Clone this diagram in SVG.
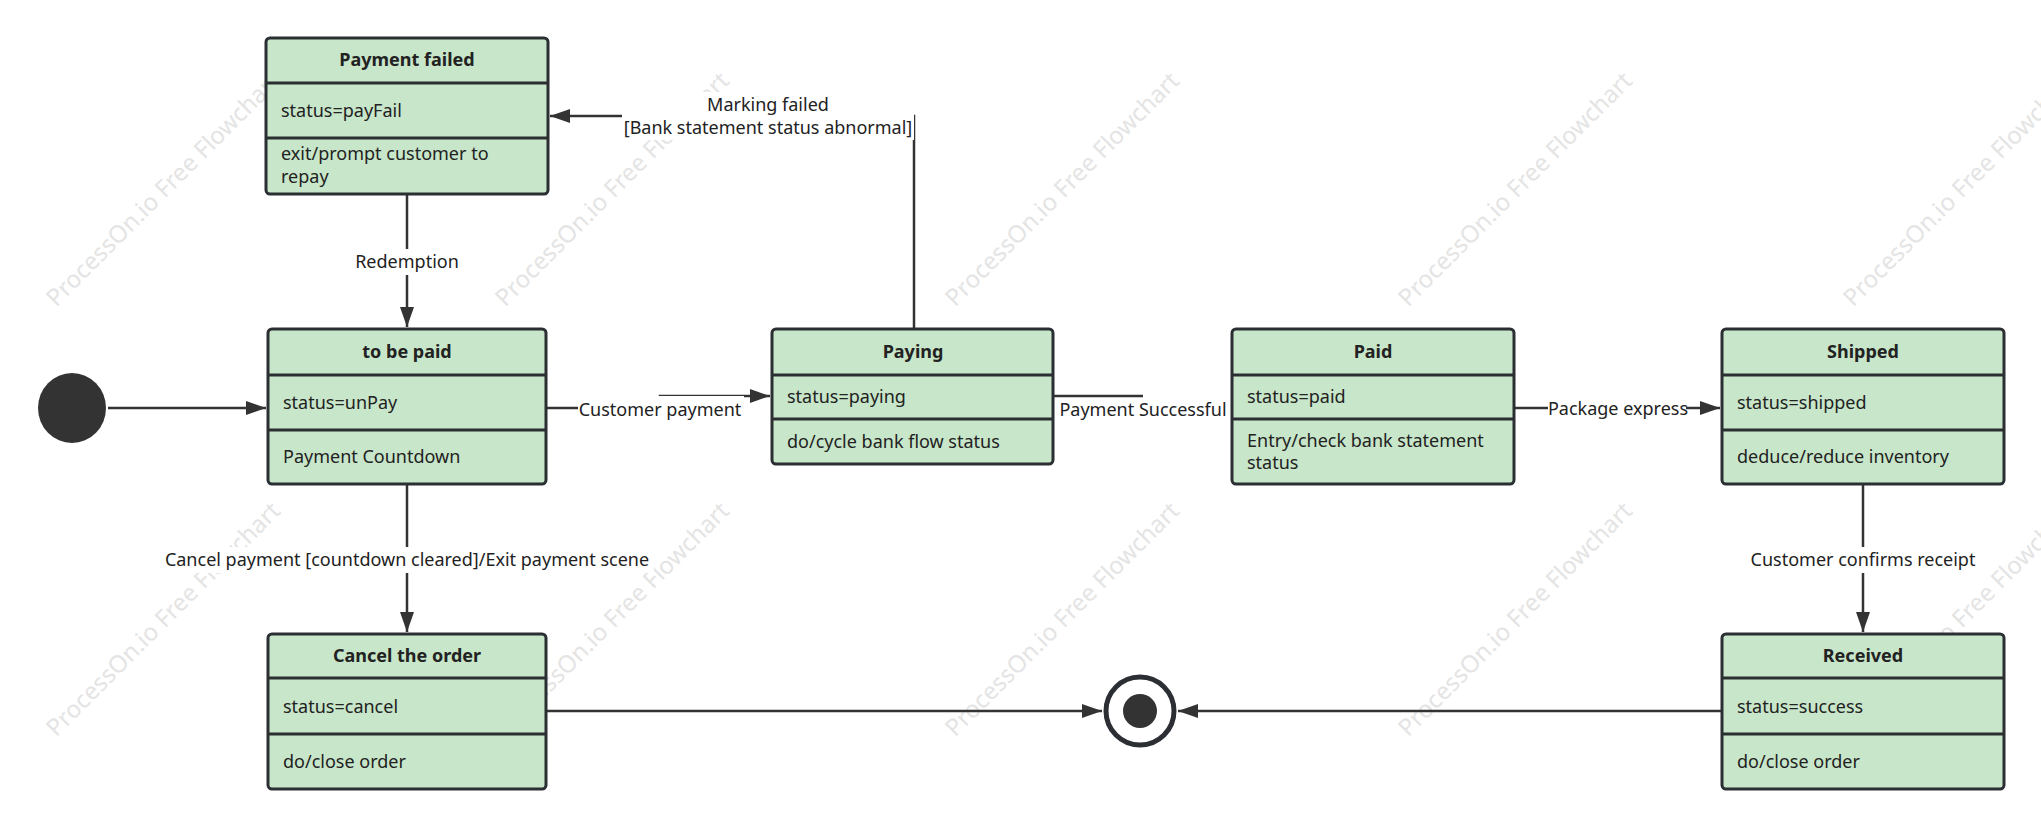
<svg xmlns="http://www.w3.org/2000/svg" width="2041" height="827" viewBox="0 0 2041 827">
<defs>
<style>
.box{fill:#c8e6c9;stroke:#2b2f33;stroke-width:3}
.div{stroke:#2b2f33;stroke-width:3}
.h{font-family:"Noto Sans",sans-serif;font-size:18px;font-weight:bold;fill:#222;text-anchor:middle}
.t{font-family:"Noto Sans",sans-serif;font-size:18px;fill:#222}
.lbl{font-family:"Noto Sans",sans-serif;font-size:18px;fill:#222;text-anchor:middle}
.c{fill:none;stroke:#333;stroke-width:2.5}
.wm{font-family:"Noto Sans",sans-serif;font-size:24px;fill:#e4e4e4;text-anchor:middle}
</style>
<marker id="A" viewBox="0 0 10 10" refX="10" refY="5" markerWidth="20" markerHeight="14" markerUnits="userSpaceOnUse" orient="auto" preserveAspectRatio="none"><path d="M0,0L10,5L0,10z" fill="#333"/></marker>
</defs>
<rect width="2041" height="827" fill="#fff"/>
<g id="watermarks">
<text class="wm" transform="translate(169,195) rotate(-45)">ProcessOn.io Free Flowchart</text>
<text class="wm" transform="translate(618,195) rotate(-45)">ProcessOn.io Free Flowchart</text>
<text class="wm" transform="translate(1068,195) rotate(-45)">ProcessOn.io Free Flowchart</text>
<text class="wm" transform="translate(1521,195) rotate(-45)">ProcessOn.io Free Flowchart</text>
<text class="wm" transform="translate(1966,195) rotate(-45)">ProcessOn.io Free Flowchart</text>
<text class="wm" transform="translate(169,625) rotate(-45)">ProcessOn.io Free Flowchart</text>
<text class="wm" transform="translate(618,625) rotate(-45)">ProcessOn.io Free Flowchart</text>
<text class="wm" transform="translate(1068,625) rotate(-45)">ProcessOn.io Free Flowchart</text>
<text class="wm" transform="translate(1521,625) rotate(-45)">ProcessOn.io Free Flowchart</text>
<text class="wm" transform="translate(1966,625) rotate(-45)">ProcessOn.io Free Flowchart</text>
</g>
<g id="connectors">
<path class="c" d="M108 408H266" marker-end="url(#A)"/>
<path class="c" d="M407 194V327" marker-end="url(#A)"/>
<path class="c" d="M546 408H660V396H770" marker-end="url(#A)"/>
<path class="c" d="M914 329V116H550" marker-end="url(#A)"/>
<path class="c" d="M1053 396H1143"/>
<path class="c" d="M1514 408H1720" marker-end="url(#A)"/>
<path class="c" d="M1863 484V632" marker-end="url(#A)"/>
<path class="c" d="M407 484V632" marker-end="url(#A)"/>
<path class="c" d="M546 711H1102" marker-end="url(#A)"/>
<path class="c" d="M1722 711H1178" marker-end="url(#A)"/>
<rect x="578" y="396" width="166" height="26" fill="#fff"/>
<text class="lbl" x="660" y="416">Customer payment</text>
<text class="lbl" x="1143" y="416">Payment Successful</text>
<rect x="1548" y="396" width="138" height="26" fill="#fff"/>
<text class="lbl" x="1618" y="415">Package express</text>
<rect x="350" y="249" width="114" height="26" fill="#fff"/>
<text class="lbl" x="407" y="268">Redemption</text>
<rect x="1748" y="547" width="230" height="26" fill="#fff"/>
<text class="lbl" x="1863" y="566">Customer confirms receipt</text>
<rect x="160" y="547" width="494" height="26" fill="#fff"/>
<text class="lbl" x="407" y="566">Cancel payment [countdown cleared]/Exit payment scene</text>
<rect x="622" y="92" width="292" height="48" fill="#fff"/>
<text class="lbl" x="768" y="111">Marking failed</text>
<text class="lbl" x="768" y="134">[Bank statement status abnormal]</text>
</g>
<g id="initial"><ellipse cx="72" cy="408" rx="34" ry="35" fill="#333"/></g>
<g id="final"><circle cx="1140" cy="711" r="34" fill="#fff" stroke="#2b2f33" stroke-width="5"/><circle cx="1140" cy="711" r="17" fill="#333"/></g>
<g id="paymentFailed">
<rect class="box" x="266" y="38" width="282" height="156" rx="4"/>
<path class="div" d="M266 83H548M266 138H548"/>
<text class="h" x="407" y="66">Payment failed</text>
<text class="t" x="281" y="117">status=payFail</text>
<text class="t" x="281" y="160">exit/prompt customer to</text>
<text class="t" x="281" y="183">repay</text>
</g>
<g id="toBePaid">
<rect class="box" x="268" y="329" width="278" height="155" rx="4"/>
<path class="div" d="M268 375H546M268 430H546"/>
<text class="h" x="407" y="358">to be paid</text>
<text class="t" x="283" y="409">status=unPay</text>
<text class="t" x="283" y="463">Payment Countdown</text>
</g>
<g id="paying">
<rect class="box" x="772" y="329" width="281" height="135" rx="4"/>
<path class="div" d="M772 375H1053M772 419H1053"/>
<text class="h" x="913" y="358">Paying</text>
<text class="t" x="787" y="403">status=paying</text>
<text class="t" x="787" y="448">do/cycle bank flow status</text>
</g>
<g id="paid">
<rect class="box" x="1232" y="329" width="282" height="155" rx="4"/>
<path class="div" d="M1232 375H1514M1232 419H1514"/>
<text class="h" x="1373" y="358">Paid</text>
<text class="t" x="1247" y="403">status=paid</text>
<text class="t" x="1247" y="447">Entry/check bank statement</text>
<text class="t" x="1247" y="469">status</text>
</g>
<g id="shipped">
<rect class="box" x="1722" y="329" width="282" height="155" rx="4"/>
<path class="div" d="M1722 375H2004M1722 430H2004"/>
<text class="h" x="1863" y="358">Shipped</text>
<text class="t" x="1737" y="409">status=shipped</text>
<text class="t" x="1737" y="463">deduce/reduce inventory</text>
</g>
<g id="cancel">
<rect class="box" x="268" y="634" width="278" height="155" rx="4"/>
<path class="div" d="M268 678H546M268 734H546"/>
<text class="h" x="407" y="662">Cancel the order</text>
<text class="t" x="283" y="713">status=cancel</text>
<text class="t" x="283" y="768">do/close order</text>
</g>
<g id="received">
<rect class="box" x="1722" y="634" width="282" height="155" rx="4"/>
<path class="div" d="M1722 678H2004M1722 734H2004"/>
<text class="h" x="1863" y="662">Received</text>
<text class="t" x="1737" y="713">status=success</text>
<text class="t" x="1737" y="768">do/close order</text>
</g>
</svg>
